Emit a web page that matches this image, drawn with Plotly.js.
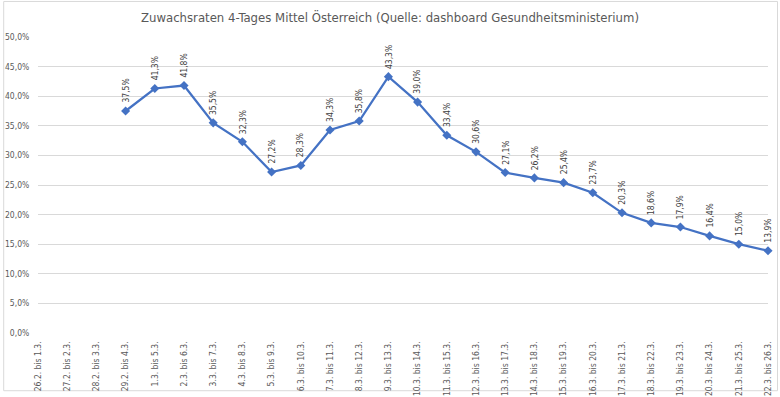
<!DOCTYPE html>
<html><head><meta charset="utf-8">
<script src="https://cdn.plot.ly/plotly-3.0.1.min.js"></script>
<style>html,body{margin:0;padding:0;background:#fff}#c{width:780px;height:397px}</style>
</head><body><div id="c"></div>
<script>
const categories = ["26.2. bis 1.3.","27.2. bis 2.3.","28.2. bis 3.3.","29.2. bis 4.3.","1.3. bis 5.3.","2.3. bis 6.3.","3.3. bis 7.3.","4.3. bis 8.3.","5.3. bis 9.3.","6.3. bis 10.3.","7.3. bis 11.3.","8.3. bis 12.3.","9.3. bis 13.3.","10.3. bis 14.3.","11.3. bis 15.3.","12.3. bis 16.3.","13.3. bis 17.3.","14.3. bis 18.3.","15.3. bis 19.3.","16.3. bis 20.3.","17.3. bis 21.3.","18.3. bis 22.3.","19.3. bis 23.3.","20.3. bis 24.3.","21.3. bis 25.3.","22.3. bis 26.3."];
const values = [null,null,null,37.5,41.3,41.8,35.5,32.3,27.2,28.3,34.3,35.8,43.3,39.0,33.4,30.6,27.1,26.2,25.4,23.7,20.3,18.6,17.9,16.4,15.0,13.9];
const yTicks = [0,5,10,15,20,25,30,35,40,45,50];
const yTickLabels = yTicks.map(v => v.toFixed(1).replace('.', ',') + '%');

const FONT = '"Liberation Sans Narrow", "DejaVu Sans Condensed", Roboto, sans-serif';
const annotations = [];
categories.forEach((c, i) => {
  if (values[i] === null) return;
  annotations.push({
    x: c, y: values[i], xref: 'x', yref: 'y',
    text: values[i].toFixed(1).replace('.', ',') + '%',
    showarrow: false, textangle: -90,
    xanchor: 'center', yanchor: 'bottom', yshift: 6,
    font: {family: FONT, size: 8.5, color: '#404040'}
  });
});

const trace = {
  x: categories, y: values, type: 'scatter', mode: 'lines+markers',
  line: {color: '#4472C4', width: 2.25},
  marker: {symbol: 'diamond', size: 7, color: '#4472C4'},
  cliponaxis: false, connectgaps: false, hoverinfo: 'skip'
};

const layout = {
  width: 780, height: 397,
  margin: {l: 38, r: 12, t: 37, b: 64},
  paper_bgcolor: '#fff', plot_bgcolor: '#fff',
  title: {text: 'Zuwachsraten 4-Tages Mittel Österreich (Quelle: dashboard Gesundheitsministerium)',
          font: {family: FONT, size: 13, color: '#595959'}, x: 0.5, xanchor: 'center', y: 0.955, yanchor: 'middle'},
  showlegend: false,
  xaxis: {type: 'category', range: [0, categories.length - 1], tickangle: -90,
          tickfont: {family: FONT, size: 8.5, color: '#595959'},
          showgrid: false, zeroline: false, showline: false, ticks: 'outside', ticklen: 4, tickcolor: 'rgba(0,0,0,0)'},
  yaxis: {range: [0, 50], tickvals: yTicks, ticktext: yTickLabels,
          tickfont: {family: FONT, size: 8.5, color: '#595959'},
          gridcolor: '#D9D9D9', gridwidth: 1, zeroline: false, showline: false,
          ticks: 'outside', ticklen: 6, tickcolor: 'rgba(0,0,0,0)'},
  annotations: annotations,
  shapes: [{type: 'rect', xref: 'paper', yref: 'paper', x0: -0.047, x1: 1.013, y0: -0.195, y1: 1.12,
            line: {color: '#D9D9D9', width: 1}, fillcolor: 'rgba(0,0,0,0)', layer: 'below'}]
};

Plotly.newPlot('c', [trace], layout, {staticPlot: true, displayModeBar: false});
</script></body></html>
